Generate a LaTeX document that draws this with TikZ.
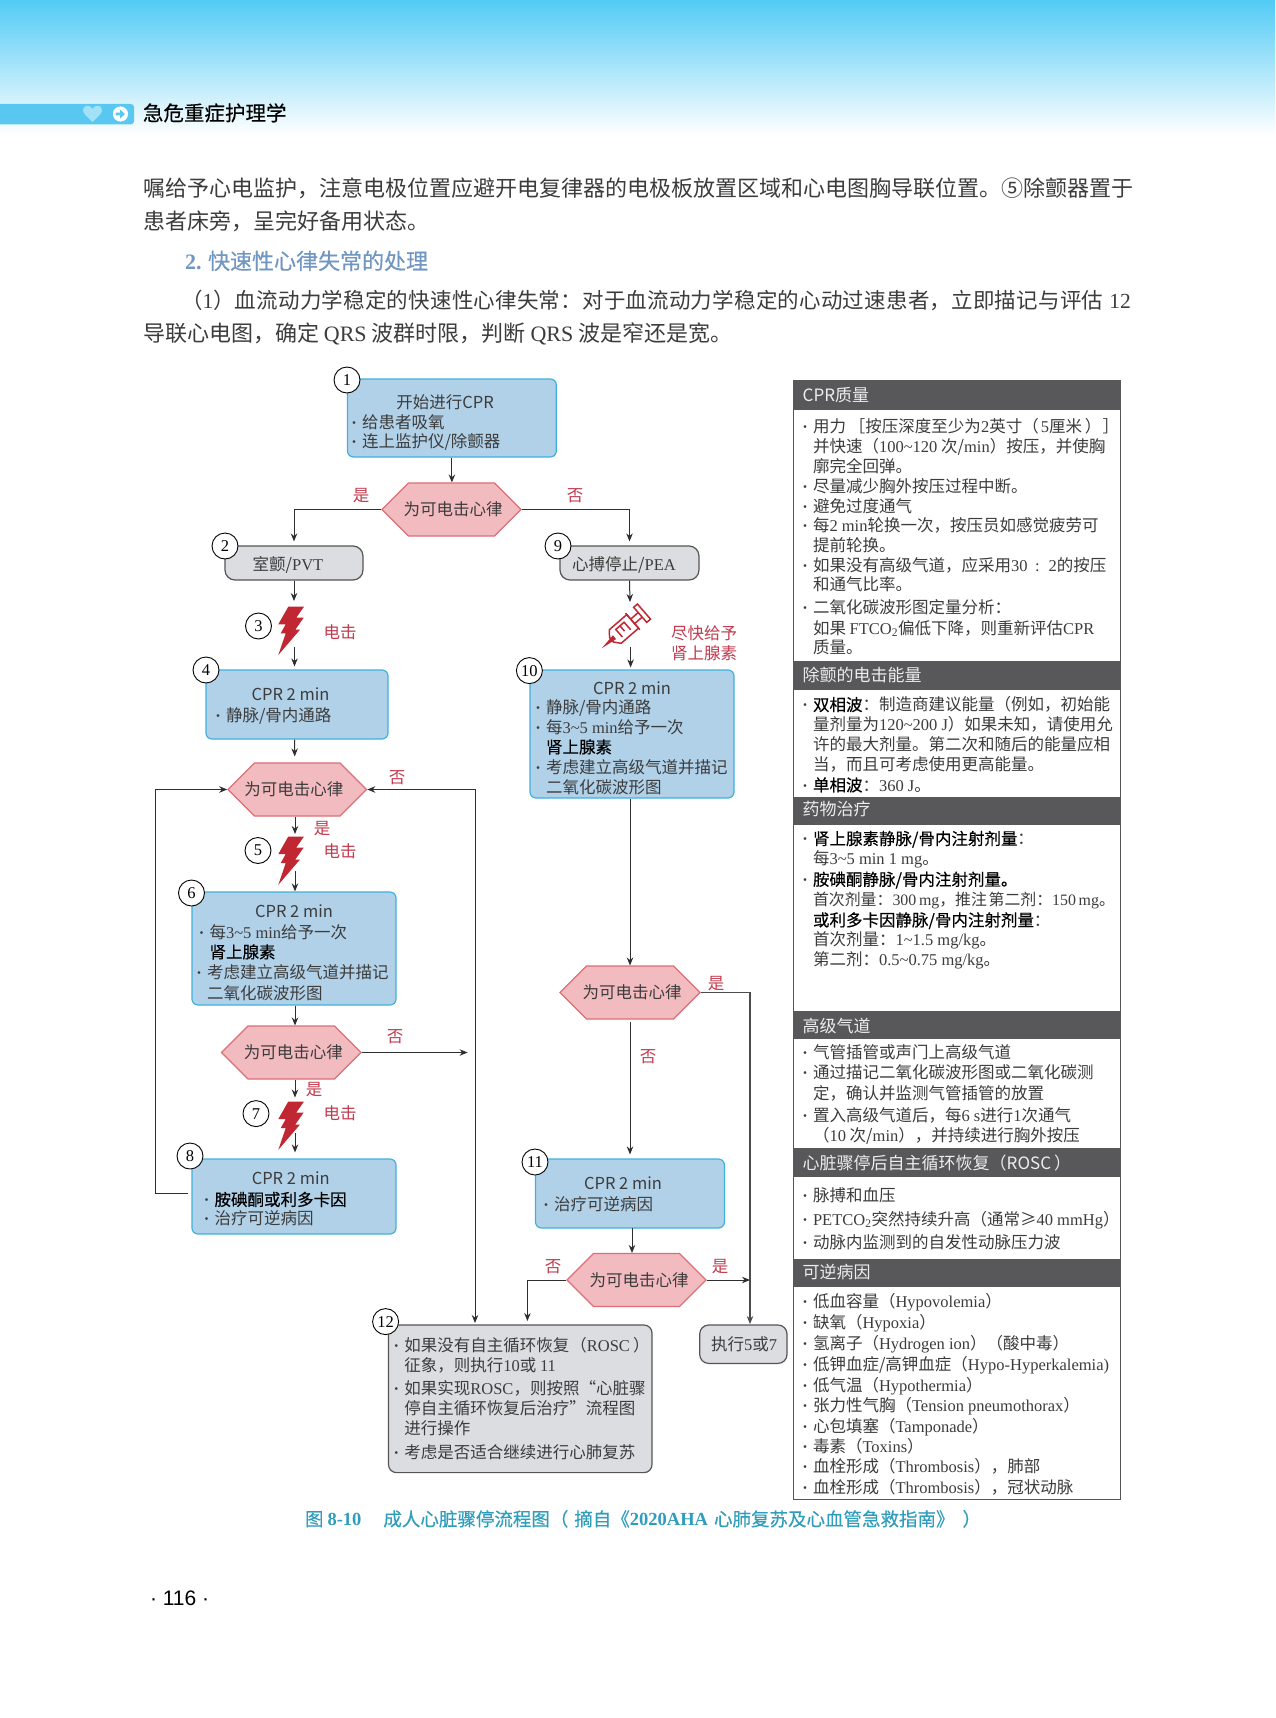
\documentclass[tikz,border=0pt]{standalone}
\usepackage{fontspec}
\setmainfont{Noto Sans CJK SC}
\newfontfamily\latf{Liberation Serif}
\newfontfamily\sansl{Liberation Sans}
\newfontfamily\medf[FakeBold=0.35]{Noto Sans CJK SC}
\newfontfamily\lsf[LetterSpace=1]{Noto Sans CJK SC}
\usetikzlibrary{arrows.meta,shapes.symbols,shapes.geometric}
\definecolor{tx}{HTML}{3C3C3C}
\definecolor{bluef}{HTML}{B1D1E9}
\definecolor{blued}{HTML}{3FB2DC}
\definecolor{redf}{HTML}{F2BBC0}
\definecolor{redd}{HTML}{DE6E76}
\definecolor{grayf}{HTML}{DCDDE1}
\definecolor{grayd}{HTML}{555558}
\definecolor{hdr}{HTML}{58585A}
\definecolor{redt}{HTML}{C23A4E}
\definecolor{boltc}{HTML}{C02732}
\definecolor{capc}{HTML}{2F9DBB}
\definecolor{secc}{HTML}{7096C2}
\definecolor{skyc}{HTML}{52CBF5}
\definecolor{barc}{HTML}{58C8F0}
\newcommand\E[1]{{\latf #1}}
\newcommand\B[1]{{\color{black}\medf #1}}
\newcommand\tld{\textasciitilde}
\newcounter{tlc}
% one line of text, centred vertically on y
\newcommand\tl[4][btxt]{\stepcounter{tlc}\node[#1] (tl\thetlc) at (#2,#3) {#4};}
% a bullet and its line
\newcommand\bu[4][btxt]{\stepcounter{tlc}\node[#1,anchor=center] (bu\thetlc) at ({#2-8},#3) {\E{\bfseries ·}};\tl[#1]{#2}{#3}{#4}}
% a box by its edges
\newcommand\bx[6]{\node[#1,minimum width={(#5)-(#3)},minimum height={(#6)-(#4)}] (#2) at ({((#3)+(#5))/2},{((#4)+(#6))/2}) {};}
\newcommand\hx[5]{\node[hexb,minimum width=#4,minimum height=53] (#1) at (#2,#3) {\makebox[0pt]{#5}};}
\newcommand\hxt[2]{\hspace*{#1pt}为可电击心律}
\newcommand\boltat[2]{\fill[boltc,shift={(#1,#2)}] (10,0)--(25.7,0)--(18,11)--(25.4,11)--(17,23)--(21.7,23)--(0,48.3)--(7.4,26.6)--(2.4,26.6)--(7.4,17.6)--(0,17.6)--cycle;}
\tikzset{
 x=1pt,y=-1pt,
 sz/.style={font=\fontsize{#1}{#1}\selectfont},
 txt/.style={inner sep=0pt,outer sep=0pt,anchor=west},
 btxt/.style={txt,sz=16.5,text=tx,text height=14pt,text depth=1.65pt},
 ctxt/.style={btxt,anchor=center},
 rtxt/.style={ctxt,text=redt},
 body/.style={txt,sz=22,text=tx,text height=18.7pt,text depth=2.2pt},
 head/.style={txt,sz=17,text=white!93!black,text height=14.45pt,text depth=1.7pt},
 bluebox/.style={draw=blued,fill=bluef,line width=1.2pt,rounded corners=6pt,inner sep=0pt},
 graybox/.style={draw=grayd,fill=grayf,line width=1.2pt,rounded corners=8pt,inner sep=0pt},
 hexb/.style={shape=signal,signal to=east and west,signal pointer angle=90,draw=redd,fill=redf,line width=1.1pt,inner sep=0pt,sz=16.5,text=tx,text height=14pt,text depth=1.65pt},
 num/.style={circle,draw=black,fill=white,line width=.9pt,minimum size=26pt,inner sep=0pt,font=\latf\fontsize{16.5}{16.5}\selectfont},
 hdrb/.style={fill=hdr,inner sep=0pt},
 conn/.style={draw=black!82,line width=1pt,-{Stealth[length=8pt,width=6.5pt]}},
 syr/.style={draw=boltc,line width=1.5pt,line join=miter},
}
\begin{document}
\begin{tikzpicture}
\useasboundingbox (0,0) rectangle (1275,1718);
\fill[white] (0,0) rectangle (1275,1718);
% page head
\shade[top color=skyc,bottom color=white] (0,0) rectangle (1275,135);
\fill[barc,rounded corners=3pt] (-6,104) rectangle (134,124.3);
\fill[white!45!barc] (92.5,122) .. controls (86,116) and (83,113) .. (83,110) .. controls (83,105) and (90,104) .. (92.5,109) .. controls (95,104) and (102,105) .. (102,110) .. controls (102,113) and (99,116) .. (92.5,122) -- cycle;
\fill[white] (120.5,114) circle (7.6);
\fill[barc] (115.5,112.6) -- (120,112.6) -- (120,109.5) -- (125,114) -- (120,118.5) -- (120,115.4) -- (115.5,115.4) -- cycle;
\tl[txt,text=black,font=\medf\fontsize{20.5}{20.5}\selectfont,text height=17.4pt,text depth=2pt]{143}{113}{急危重症护理学}
\tl[body]{143}{188}{嘱给予心电监护，注意电极位置应避开电复律器的电极板放置区域和心电图胸导联位置。⑤除颤器置于}
\tl[body]{143}{221.7}{患者床旁，呈完好备用状态。}
\tl[body,text=secc]{185}{261}{\medf\E{\bfseries 2.} 快速性心律失常的处理}
\tl[body,font=\lsf\fontsize{21.5}{21.5}\selectfont]{181}{300}{（\E{1}）血流动力学稳定的快速性心律失常：对于血流动力学稳定的心动过速患者，立即描记与评估\hspace{6pt}\E{12}}
\tl[body]{143}{333}{导联心电图，确定 \E{QRS} 波群时限，判断 \E{QRS} 波是窄还是宽。}

% flow boxes
\bx{bluebox}{box1}{347.5}{379}{556.3}{457}
\bx{graybox,rounded corners=10pt}{box2}{225}{546}{363}{580}
\bx{graybox,rounded corners=10pt}{box9}{560}{546}{699}{580}
\bx{bluebox}{box4}{206}{670}{388}{739}
\bx{bluebox}{box10}{530}{670}{734}{798}
\bx{bluebox}{box6}{192}{892}{396}{1005}
\bx{bluebox}{box8}{192}{1159}{396}{1234}
\bx{bluebox}{box11}{535.5}{1159}{724.4}{1228}
\bx{graybox}{box12}{388.5}{1325}{652}{1472.6}
\bx{graybox,rounded corners=9pt}{box13}{699.7}{1325}{787}{1363.4}
\hx{hex1}{451.5}{509.5}{139}{\hxt{3}{}}
\hx{hex2}{297.25}{789.5}{138.5}{\hxt{-7}{}}
\hx{hex3}{291.25}{1052.5}{139.5}{\hxt{4}{}}
\hx{hex4}{630}{992.5}{140}{\hxt{4}{}}
\hx{hex5}{636.5}{1280}{139}{\hxt{5}{}}

% free ends of connectors
\coordinate (b3i) at (294,601);  \coordinate (b3o) at (294.5,647);
\coordinate (b5i) at (295,834);  \coordinate (b5o) at (295,871);
\coordinate (b7i) at (295,1097.5); \coordinate (b7o) at (295,1133);
\coordinate (syi) at (630,602);  \coordinate (syo) at (630.6,647);
\coordinate (jn) at (475,1323);
\coordinate (j3) at (467.6,1052.5);
\coordinate (j4) at (750,1324);
\coordinate (j5) at (750,1280);
\coordinate (l8) at (155.6,1193.5);
\coordinate (l8s) at (188,1193.5);
\coordinate (l12) at (527.4,1321);
\coordinate (c11) at (632,1228);

% connectors
\draw[conn] (box1.south) -- (box1.south |- hex1.north);
\draw[conn] (hex1.west) -| ([yshift=4pt]box2.north);
\draw[conn] (hex1.east) -| ([yshift=4pt]box9.north);
\draw[conn] (box2.south) -- (b3i);
\draw[conn] (b3o) -- ([yshift=3pt]b3o |- box4.north);
\draw[conn] ([xshift=-2.5pt]box4.south) -- ([xshift=-2.5pt,yshift=6pt]hex2.north);
\draw[conn] (box9.south) -- (syi);
\draw[conn] (syo) -- ([yshift=2pt]syo |- box10.north);
\draw[conn] (hex2.south -| b5i) -- (b5i);
\draw[conn] (b5o) -- (b5o |- box6.north);
\draw[conn] (box6.south -| b5i) -- (b5i |- hex3.north);
\draw[conn] (hex3.south -| b7i) -- (b7i);
\draw[conn] (b7o) -- ([yshift=6pt]b7o |- box8.north);
\draw[conn] (l8s) -- (l8) |- (hex2.west);
\draw[conn,{Stealth[length=8pt,width=6.5pt]}-{Stealth[length=8pt,width=6.5pt]}] (hex2.east) -| (jn);
\draw[conn] (hex3.east) -- (j3);
\draw[conn] (hex4.north |- box10.south) -- (hex4.north);
\draw[conn] ([yshift=-2pt]hex4.south) -- ([yshift=4pt]hex4.south |- box11.north);
\draw[conn,line width=1.4pt,draw=black!70] (hex4.east) -| (j4);
\draw[conn] (c11) -- (c11 |- hex5.north);
\draw[conn] (hex5.west) -| (l12);
\draw[conn] (hex5.east) -- (j5);

% shocks and syringe
\boltat{278.3}{606.7}
\boltat{278.3}{836.5}
\boltat{278.3}{1101.5}
\begin{scope}[shift={(601.7,648.3)},rotate=41,syr]
 \fill[boltc] (0,0) -- (17,-2.5) -- (17,2.5) -- cycle;
 \draw (18,-9) -- (41,-9) -- (41,9) -- (18,9) -- (13,3) -- (13,-3) -- cycle;
 \draw (23,5) -- (23,-5) -- (34,-5) -- (34,5) (28.5,-5) -- (28.5,2);
 \draw (41,-11) -- (41,11);
 \draw (41,-3) -- (51,-3) (41,3) -- (51,3);
 \draw (51,-10) -- (56,-10) -- (56,10) -- (51,10) -- cycle;
\end{scope}

% numbers
\node[num] (n1) at (347,380) {1};
\node[num] (n2) at (225,546) {2};
\node[num] (n3) at (258.5,626) {3};
\node[num] (n4) at (206,670) {4};
\node[num] (n5) at (258,850.5) {5};
\node[num] (n6) at (191.5,893) {6};
\node[num] (n7) at (256,1113.6) {7};
\node[num] (n8) at (190,1156) {8};
\node[num] (n9) at (558,546) {9};
\node[num] (n10) at (529.4,670.6) {10};
\node[num] (n11) at (535,1162) {11};
\node[num] (n12) at (385.6,1321.6) {12};

% flow text
\tl[ctxt]{445}{402}{开始进行CPR}
\bu{362}{422}{给患者吸氧}
\bu{362}{441}{连上监护仪/除颤器}
\tl[ctxt]{288}{564}{室颤/\E{PVT}}
\tl[ctxt]{624}{564}{心搏停止/\E{PEA}}
\tl[ctxt]{290.5}{694}{CPR 2 min}
\bu{226}{715}{静脉/骨内通路}
\tl[ctxt]{632}{688}{CPR 2 min}
\bu{546}{707}{静脉/骨内通路}
\bu{546}{727}{每\E{3\tld5 min}给予一次}
\tl{546}{747}{\B{肾上腺素}}
\bu{546}{767}{考虑建立高级气道并描记}
\tl{546}{787}{二氧化碳波形图}
\tl[ctxt]{294}{911}{CPR 2 min}
\bu{209.5}{932}{每\E{3\tld5 min}给予一次}
\tl{209.5}{952}{\B{肾上腺素}}
\bu{207}{972.6}{考虑建立高级气道并描记}
\tl{207}{993}{二氧化碳波形图}
\tl[ctxt]{290.7}{1178}{CPR 2 min}
\bu{214.6}{1199.5}{\B{胺碘酮或利多卡因}}
\bu{214.6}{1218}{治疗可逆病因}
\tl[ctxt]{623}{1183.4}{CPR 2 min}
\bu{554}{1204}{治疗可逆病因}
\bu{404.4}{1345.4}{如果没有自主循环恢复\hspace{1pt}（\E{ROSC}\hspace{3pt}）}
\tl{404.4}{1365.6}{征象，则执行\E{10}或 \E{11}}
\bu{404.4}{1388.6}{如果实现\E{ROSC}，则按照“心脏骤}
\tl{404.4}{1408.8}{停自主循环恢复后治疗”流程图}
\tl{404.4}{1428}{进行操作}
\bu{404.4}{1452}{考虑是否适合继续进行心肺复苏}
\tl[ctxt]{744}{1344}{执行\E{5}或\E{7}}

% flow labels
\tl[rtxt]{361}{495}{是}
\tl[rtxt]{575}{495}{否}
\tl[rtxt]{340}{632}{电击}
\tl[rtxt]{704}{633}{尽快给予}
\tl[rtxt]{704}{653}{肾上腺素}
\tl[rtxt]{397}{777}{否}
\tl[rtxt]{322}{828}{是}
\tl[rtxt]{340}{851}{电击}
\tl[rtxt]{395}{1036.5}{否}
\tl[rtxt]{314}{1089}{是}
\tl[rtxt]{340}{1113.6}{电击}
\tl[rtxt]{716}{983.6}{是}
\tl[rtxt]{648}{1056}{否}
\tl[rtxt]{553}{1266.5}{否}
\tl[rtxt]{720}{1266.5}{是}

% right panel
\node[draw=grayd,line width=1pt,inner sep=0pt,minimum width=327.6,minimum height=1119,fill=white] (panel) at (956.9,939.5) {};
\bx{hdrb}{h1}{793}{380}{1120.6}{409.6}
\bx{hdrb}{h2}{793}{661.4}{1120.6}{689.6}
\bx{hdrb}{h3}{793}{796.5}{1120.6}{825}
\bx{hdrb}{h4}{793}{1011}{1120.6}{1039.3}
\bx{hdrb}{h5}{793}{1148}{1120.6}{1176.7}
\bx{hdrb}{h6}{793}{1258.7}{1120.6}{1286.7}
\tl[head]{802.7}{395}{CPR质量}
\tl[head]{802.7}{675}{除颤的电击能量}
\tl[head]{802.7}{809.6}{药物治疗}
\tl[head]{802.7}{1026}{高级气道}
\tl[head]{802.7}{1163.3}{心脏骤停后自主循环恢复（ROSC\hspace{3pt}）}
\tl[head]{802.7}{1272.3}{可逆病因}

\bu{813}{426.3}{用力\hspace{3pt}［按压深度至少为\E{2}英寸（\hspace{2pt}\E{5}厘米\hspace{3pt}）\hspace{1pt}］}
\tl{813}{446.3}{并快速（\E{100\tld120} 次/\E{min}）按压，并使胸}
\tl{813}{466}{廓完全回弹。}
\bu{813}{486.7}{尽量减少胸外按压过程中断。}
\bu{813}{506.7}{避免过度通气}
\bu{813}{525}{每\E{2 min}轮换一次，按压员如感觉疲劳可}
\tl{813}{545.5}{提前轮换。}
\bu{813}{565}{如果没有高级气道，应采用\E{30\hspace{3.5pt} : \hspace{3.5pt}2}的按压}
\tl{813}{584}{和通气比率。}
\bu{813}{607.5}{二氧化碳波形图定量分析：}
\tl{813}{628}{如果 \E{FTCO\textsubscript{2}}偏低下降，则重新评估\E{CPR}}
\tl{813}{647.5}{质量。}

\bu{813}{704.7}{\B{双相波}：制造商建议能量（例如，初始能}
\tl{813}{724}{量剂量为\E{120\tld200 J}）如果未知，请使用允}
\tl{813}{744}{许的最大剂量。第二次和随后的能量应相}
\tl{813}{764}{当，而且可考虑使用更高能量。}
\bu{813}{785}{\B{单相波}：\E{360 J}。}

\bu{813}{838.6}{\B{肾上腺素静脉/骨内注射剂量}：}
\tl{813}{858.6}{每\E{3\tld5 min 1 mg}。}
\bu{813}{879.4}{\B{胺碘酮静脉/骨内注射剂量。}}
\tl[btxt,sz=15.9]{813}{899.4}{首次剂量：\E{300\,mg}，推注\hspace{.1em}第二剂：\E{150\,mg}。}
\tl{813}{920}{\B{或利多卡因静脉/骨内注射剂量}：}
\tl{813}{939.4}{首次剂量：\E{1\tld1.5 mg/kg}。}
\tl{813}{959}{第二剂：\E{0.5\tld0.75 mg/kg}。}

\bu{813}{1052.3}{气管插管或声门上高级气道}
\bu{813}{1072.7}{通过描记二氧化碳波形图或二氧化碳测}
\tl{813}{1093.3}{定，确认并监测气管插管的放置}
\bu{813}{1115}{置入高级气道后，每\E{6 s}进行\E{1}次通气}
\tl{813}{1135}{（\E{10} 次/\E{min}），并持续进行胸外按压}

\bu{813}{1195}{脉搏和血压}
\bu{813}{1219}{\E{PETCO\textsubscript{2}}突然持续升高（通常≥\E{40 mmHg}）}
\bu{813}{1242.3}{动脉内监测到的自发性动脉压力波}

\bu{813}{1301.7}{低血容量（\E{Hypovolemia}）}
\bu{813}{1322.7}{缺氧（\E{Hypoxia}）}
\bu{813}{1343.3}{氢离子（\E{Hydrogen ion}）（酸中毒）}
\bu{813}{1364}{低钾血症/高钾血症（\E{Hypo-Hyperkalemia)}}
\bu{813}{1385}{低气温（\E{Hypothermia}）}
\bu{813}{1405.3}{张力性气胸（\E{Tension pneumothorax}）}
\bu{813}{1426}{心包填塞（\E{Tamponade}）}
\bu{813}{1446.7}{毒素（\E{Toxins}）}
\bu{813}{1466.7}{血栓形成（\E{Thrombosis}），肺部}
\bu{813}{1487.3}{血栓形成（\E{Thrombosis}），冠状动脉}

% caption and folio
\tl[txt,text=capc,font=\medf\fontsize{18.5}{18.5}\selectfont,text height=15.7pt,text depth=1.85pt]{305}{1519}{图\hspace{4pt}\E{\bfseries 8-10}\hspace{22pt}成人心脏骤停流程图（\hspace{6pt}摘自《\E{\bfseries 2020AHA}\hspace{6pt}心肺复苏及心血管急救指南》\hspace{8pt}）}
\tl[txt,text=black,font=\sansl\fontsize{21}{21}\selectfont,text height=17.8pt,text depth=2.1pt]{150}{1598}{· 116 ·}
\end{tikzpicture}
\end{document}
